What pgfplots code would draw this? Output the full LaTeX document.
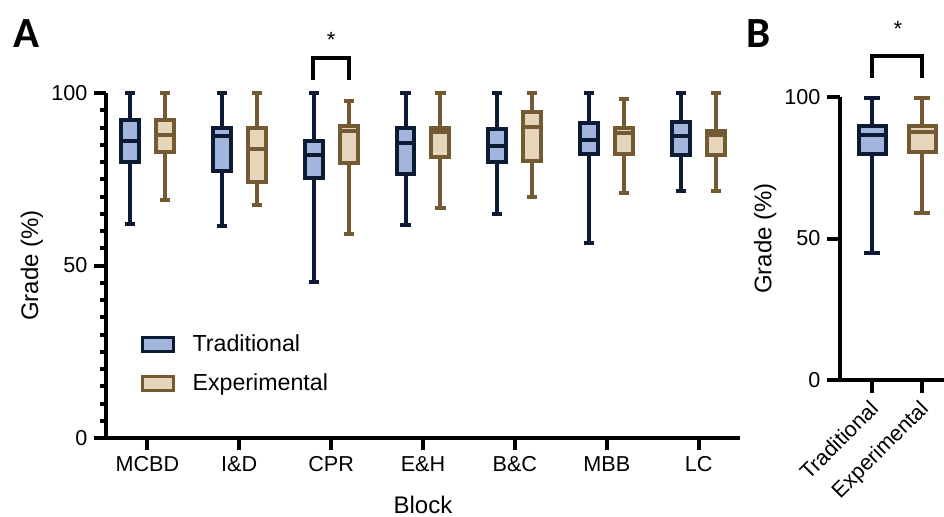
\documentclass[border=0pt]{standalone}
\usepackage{fontspec}
\setmainfont{Liberation Sans}
\newfontfamily\labelfont{Carlito}
\usepackage{pgfplots}
\usepgfplotslibrary{statistics}
\pgfplotsset{compat=1.18}
\definecolor{navy}{HTML}{0E1B35}
\definecolor{bluefill}{HTML}{A2B6DD}
\definecolor{brownc}{HTML}{735A33}
\definecolor{tanfill}{HTML}{E4D5BB}
\pgfplotsset{
  trad/.style={draw=navy, fill=bluefill, line width=2pt, solid, mark=none},
  expt/.style={draw=brownc, fill=tanfill, line width=2pt, solid, mark=none},
  commonaxis/.style={
    scale only axis,
    boxplot/draw direction=y,
    axis lines=left,
    axis line style={-, line width=2pt, black},
    tick align=outside,
    tick style={line width=2pt, black},
    major tick length=5.8pt,
    minor tick length=3pt,
    ymin=0, ymax=100,
    ytick={0,50,100},
    clip=false,
    /pgf/number format/assume math mode=true,
    tick label style={font=\fontsize{10.8}{12}\selectfont},
    label style={font=\fontsize{12}{14}\selectfont},
  },
}
\begin{document}
\begin{tikzpicture}
\path[use as bounding box] (0pt,0pt) rectangle (472pt,-258pt);
% ---------------- Panel A ----------------
\begin{axis}[commonaxis,
  at={(53pt,-219pt)}, anchor=south west,
  width=317pt, height=172.5pt,
  xmin=-0.45, xmax=6.45,
  xtick={0,1,2,3,4,5,6},
  xticklabels={MCBD, I\&D, CPR, E\&H, B\&C, MBB, LC},
  minor y tick num=9,
  xlabel={Block}, ylabel={Grade (\%)},
  xlabel style={at={(axis description cs:0.5,-0.194)}, anchor=center},
  ylabel style={at={(axis description cs:-0.117,0.5)}, anchor=center, rotate=0},
  legend style={draw=none, fill=none, at={(axis description cs:0.045,0.214)}, anchor=west,
    font=\fontsize{11.6}{13}\selectfont, row sep=5.5pt, legend cell align=left,
    /tikz/every even column/.append style={column sep=2pt},
    /tikz/every odd column/.append style={column sep=7pt}},
]
% MCBD
\addplot[trad, boxplot prepared={lower whisker=62, lower quartile=80, median=86, upper quartile=92.3, upper whisker=100, draw position=-0.19, box extend=0.195, whisker extend=0.11},
  legend image code/.code={\draw[draw=navy,fill=bluefill,line width=1.35pt] (0pt,-3.5pt) rectangle (15.5pt,3.5pt);}] coordinates {};
\addplot[expt, boxplot prepared={lower whisker=69, lower quartile=83, median=87.8, upper quartile=92.3, upper whisker=100, draw position=0.19, box extend=0.195, whisker extend=0.11},
  legend image code/.code={\draw[draw=brownc,fill=tanfill,line width=1.35pt] (0pt,-3.5pt) rectangle (15.5pt,3.5pt);}] coordinates {};
% I&D
\addplot[trad, forget plot, boxplot prepared={lower whisker=61.5, lower quartile=77.5, median=87.5, upper quartile=90, upper whisker=100, draw position=0.81, box extend=0.195, whisker extend=0.11}] coordinates {};
\addplot[expt, forget plot, boxplot prepared={lower whisker=67.5, lower quartile=74.3, median=83.8, upper quartile=90, upper whisker=100, draw position=1.19, box extend=0.195, whisker extend=0.11}] coordinates {};
% CPR
\addplot[trad, forget plot, boxplot prepared={lower whisker=45.3, lower quartile=75.5, median=82, upper quartile=86, upper whisker=100, draw position=1.81, box extend=0.195, whisker extend=0.11}] coordinates {};
\addplot[expt, forget plot, boxplot prepared={lower whisker=59, lower quartile=79.6, median=89, upper quartile=90.5, upper whisker=97.6, draw position=2.19, box extend=0.195, whisker extend=0.11}] coordinates {};
% E&H
\addplot[trad, forget plot, boxplot prepared={lower whisker=61.8, lower quartile=76.5, median=85.6, upper quartile=90, upper whisker=100, draw position=2.81, box extend=0.195, whisker extend=0.11}] coordinates {};
\addplot[expt, forget plot, boxplot prepared={lower whisker=66.6, lower quartile=81.4, median=88.8, upper quartile=90, upper whisker=100, draw position=3.19, box extend=0.195, whisker extend=0.11}] coordinates {};
% B&C
\addplot[trad, forget plot, boxplot prepared={lower whisker=65, lower quartile=80, median=84.6, upper quartile=89.5, upper whisker=100, draw position=3.81, box extend=0.195, whisker extend=0.11}] coordinates {};
\addplot[expt, forget plot, boxplot prepared={lower whisker=70, lower quartile=80.3, median=90.1, upper quartile=94.4, upper whisker=100, draw position=4.19, box extend=0.195, whisker extend=0.11}] coordinates {};
% MBB
\addplot[trad, forget plot, boxplot prepared={lower whisker=56.5, lower quartile=82.3, median=86.4, upper quartile=91.4, upper whisker=100, draw position=4.81, box extend=0.195, whisker extend=0.11}] coordinates {};
\addplot[expt, forget plot, boxplot prepared={lower whisker=71, lower quartile=82.3, median=88.5, upper quartile=90, upper whisker=98.3, draw position=5.19, box extend=0.195, whisker extend=0.11}] coordinates {};
% LC
\addplot[trad, forget plot, boxplot prepared={lower whisker=71.6, lower quartile=82, median=87.5, upper quartile=91.7, upper whisker=100, draw position=5.81, box extend=0.195, whisker extend=0.11}] coordinates {};
\addplot[expt, forget plot, boxplot prepared={lower whisker=71.6, lower quartile=82, median=87.8, upper quartile=89, upper whisker=100, draw position=6.19, box extend=0.195, whisker extend=0.11}] coordinates {};
\legend{Traditional, Experimental}
% significance bracket
\draw[line width=2pt, black] (axis cs:1.8,103.8) -- (axis cs:1.8,110.2) -- (axis cs:2.2,110.2) -- (axis cs:2.2,103.8);
\node[anchor=base, font=\fontsize{11}{12}\selectfont] at (axis cs:2.0,113.2) {*};
\end{axis}
% ---------------- Panel B ----------------
\begin{axis}[commonaxis,
  at={(420pt,-190pt)}, anchor=south west,
  width=52pt, height=141.5pt,
  xmin=-0.64, xmax=1.44,
  xtick={0,1},
  xticklabels={Traditional, Experimental},
  xticklabel style={rotate=45, anchor=north east, yshift=2.5pt},
  major tick length=6.3pt,
  axis line style={-, line width=1.8pt, black},
  ylabel={Grade (\%)},
  ylabel style={at={(axis description cs:-0.72,0.5)}, anchor=center},
]
\addplot[trad, boxplot prepared={lower whisker=45, lower quartile=79.8, median=86.5, upper quartile=89.8, upper whisker=99.5, draw position=0, box extend=0.54, whisker extend=0.32}] coordinates {};
\addplot[expt, boxplot prepared={lower whisker=59, lower quartile=80.5, median=87.8, upper quartile=89.8, upper whisker=99.5, draw position=1, box extend=0.54, whisker extend=0.32}] coordinates {};
\draw[line width=2pt, black] (axis cs:0,106.7) -- (axis cs:0,114.6) -- (axis cs:1,114.6) -- (axis cs:1,106.7);
\node[anchor=base, font=\fontsize{11}{12}\selectfont] at (axis cs:0.52,121.5) {*};
\end{axis}
% panel letters
\node[font=\labelfont\bfseries\fontsize{21.5}{24}\selectfont] at (13.3pt,-17pt) {A};
\node[font=\labelfont\bfseries\fontsize{21.5}{24}\selectfont] at (379.5pt,-17pt) {B};
\end{tikzpicture}
\end{document}
